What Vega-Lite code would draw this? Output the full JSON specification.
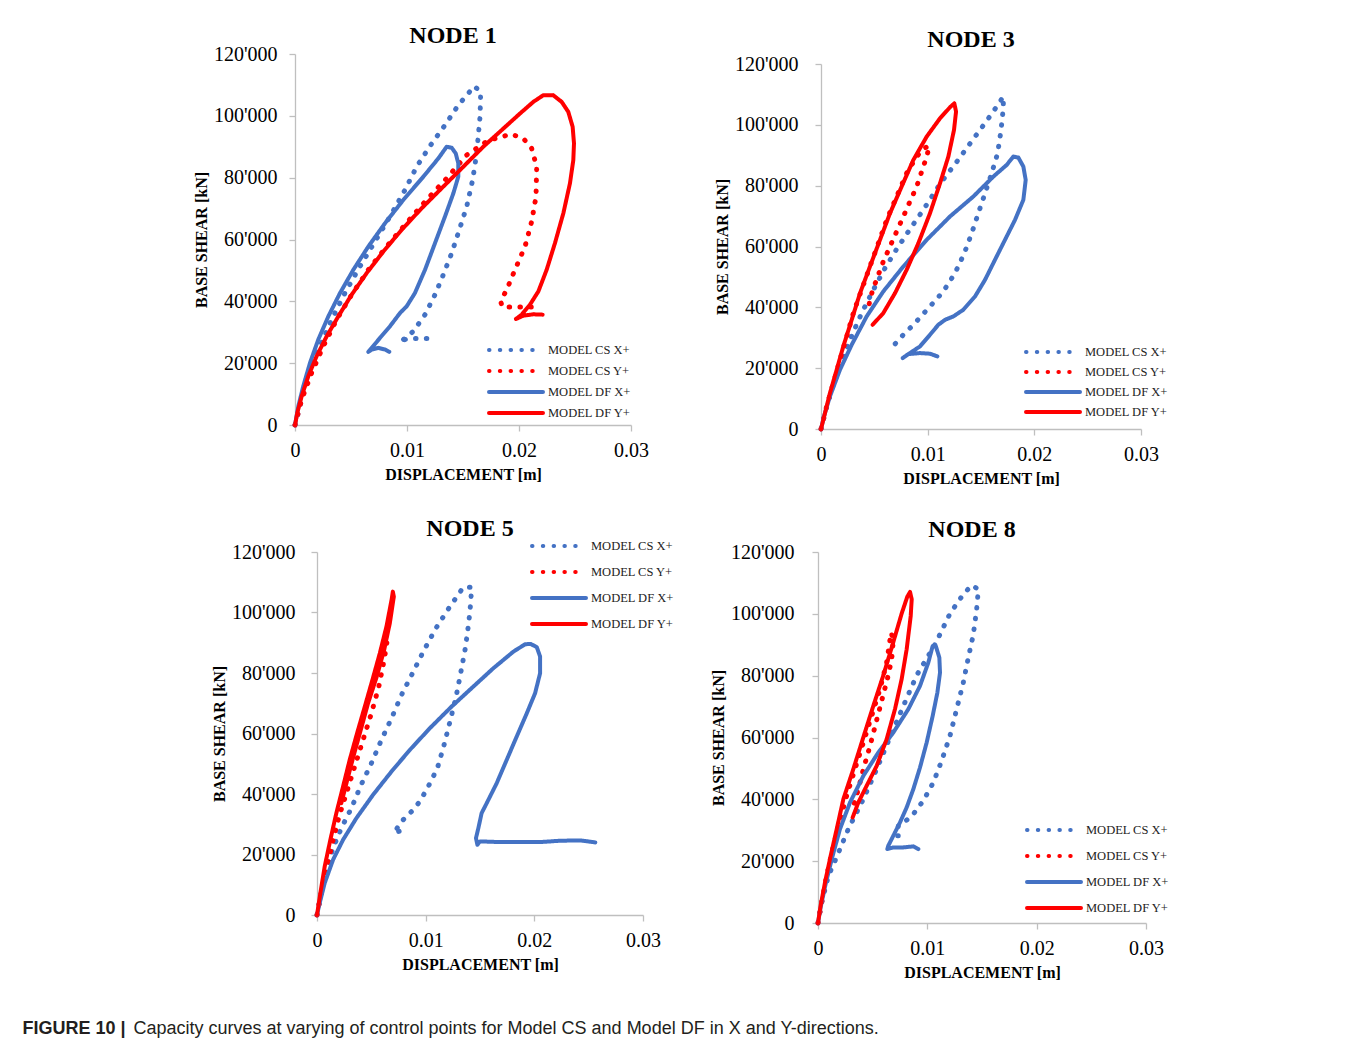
{
"$schema": "https://vega.github.io/schema/vega-lite/v6.json",
"background": "white",
"padding": {"left": 22, "top": 24, "right": 5, "bottom": 5},
"bounds": "flush",
"spacing": 498,
"title": {"text": "FIGURE 10 |", "orient": "bottom", "anchor": "start", "frame": "bounds", "font": "Liberation Sans", "fontSize": 18, "fontWeight": "bold", "color": "#231f20", "dx": -111, "offset": -4, "baseline": "alphabetic"},
"resolve": {"scale": {"color": "independent", "strokeDash": "independent"}, "legend": {"color": "independent", "strokeDash": "independent"}},
"datasets": {
"n1": [
{"s":"MODEL CS X+","i":0,"x":0,"y":0},{"s":"MODEL CS X+","i":1,"x":0.0006,"y":8280},{"s":"MODEL CS X+","i":2,"x":0.00134,"y":16882},{"s":"MODEL CS X+","i":3,"x":0.00223,"y":25484},{"s":"MODEL CS X+","i":4,"x":0.00327,"y":34087},{"s":"MODEL CS X+","i":5,"x":0.00446,"y":42689},{"s":"MODEL CS X+","i":6,"x":0.0058,"y":51292},{"s":"MODEL CS X+","i":7,"x":0.00714,"y":59357},{"s":"MODEL CS X+","i":8,"x":0.00848,"y":67422},{"s":"MODEL CS X+","i":9,"x":0.00982,"y":76024},{"s":"MODEL CS X+","i":10,"x":0.01086,"y":83551},{"s":"MODEL CS X+","i":11,"x":0.01205,"y":90218},{"s":"MODEL CS X+","i":12,"x":0.01333,"y":96670},{"s":"MODEL CS X+","i":13,"x":0.01458,"y":103444},{"s":"MODEL CS X+","i":14,"x":0.01601,"y":109573},{"s":"MODEL CS X+","i":15,"x":0.01658,"y":107745},{"s":"MODEL CS X+","i":16,"x":0.01652,"y":99680},{"s":"MODEL CS X+","i":17,"x":0.01622,"y":87852},{"s":"MODEL CS X+","i":18,"x":0.01586,"y":79250},{"s":"MODEL CS X+","i":19,"x":0.01533,"y":70648},{"s":"MODEL CS X+","i":20,"x":0.01467,"y":63121},{"s":"MODEL CS X+","i":21,"x":0.01399,"y":55594},{"s":"MODEL CS X+","i":22,"x":0.01324,"y":48604},{"s":"MODEL CS X+","i":23,"x":0.0125,"y":42152},{"s":"MODEL CS X+","i":24,"x":0.01161,"y":35700},{"s":"MODEL CS X+","i":25,"x":0.01057,"y":30323},{"s":"MODEL CS X+","i":26,"x":0.00967,"y":27635},{"s":"MODEL CS X+","i":27,"x":0.00932,"y":27097},{"s":"MODEL CS X+","i":28,"x":0.01012,"y":27958},{"s":"MODEL CS X+","i":29,"x":0.01116,"y":27958},{"s":"MODEL CS X+","i":30,"x":0.01205,"y":27958},
{"s":"MODEL CS Y+","i":0,"x":0,"y":0},{"s":"MODEL CS Y+","i":1,"x":0.0006,"y":8280},{"s":"MODEL CS Y+","i":2,"x":0.00149,"y":16882},{"s":"MODEL CS Y+","i":3,"x":0.00253,"y":25484},{"s":"MODEL CS Y+","i":4,"x":0.00372,"y":34087},{"s":"MODEL CS Y+","i":5,"x":0.00506,"y":42152},{"s":"MODEL CS Y+","i":6,"x":0.00655,"y":50217},{"s":"MODEL CS Y+","i":7,"x":0.00818,"y":57744},{"s":"MODEL CS Y+","i":8,"x":0.00982,"y":64733},{"s":"MODEL CS Y+","i":9,"x":0.01161,"y":72260},{"s":"MODEL CS Y+","i":10,"x":0.01354,"y":79787},{"s":"MODEL CS Y+","i":11,"x":0.01533,"y":87314},{"s":"MODEL CS Y+","i":12,"x":0.0172,"y":91938},{"s":"MODEL CS Y+","i":13,"x":0.01929,"y":94089},{"s":"MODEL CS Y+","i":14,"x":0.02039,"y":92691},{"s":"MODEL CS Y+","i":15,"x":0.02113,"y":89465},{"s":"MODEL CS Y+","i":16,"x":0.02158,"y":83551},{"s":"MODEL CS Y+","i":17,"x":0.02152,"y":73873},{"s":"MODEL CS Y+","i":18,"x":0.02113,"y":65808},{"s":"MODEL CS Y+","i":19,"x":0.02054,"y":57744},{"s":"MODEL CS Y+","i":20,"x":0.01964,"y":50217},{"s":"MODEL CS Y+","i":21,"x":0.0189,"y":43765},{"s":"MODEL CS Y+","i":22,"x":0.01836,"y":40001},{"s":"MODEL CS Y+","i":23,"x":0.01851,"y":38173},{"s":"MODEL CS Y+","i":24,"x":0.01949,"y":38173},{"s":"MODEL CS Y+","i":25,"x":0.02068,"y":38173},{"s":"MODEL CS Y+","i":26,"x":0.02181,"y":38173},
{"s":"MODEL DF X+","i":0,"x":0,"y":0},{"s":"MODEL DF X+","i":1,"x":0.0003,"y":6129},{"s":"MODEL DF X+","i":2,"x":0.00074,"y":12581},{"s":"MODEL DF X+","i":3,"x":0.00134,"y":20108},{"s":"MODEL DF X+","i":4,"x":0.00208,"y":27634},{"s":"MODEL DF X+","i":5,"x":0.00298,"y":35161},{"s":"MODEL DF X+","i":6,"x":0.00402,"y":42688},{"s":"MODEL DF X+","i":7,"x":0.00521,"y":50215},{"s":"MODEL DF X+","i":8,"x":0.00655,"y":57742},{"s":"MODEL DF X+","i":9,"x":0.00804,"y":65269},{"s":"MODEL DF X+","i":10,"x":0.00967,"y":72796},{"s":"MODEL DF X+","i":11,"x":0.01146,"y":80323},{"s":"MODEL DF X+","i":12,"x":0.0128,"y":86237},{"s":"MODEL DF X+","i":13,"x":0.01354,"y":90000},{"s":"MODEL DF X+","i":14,"x":0.01399,"y":89677},{"s":"MODEL DF X+","i":15,"x":0.01435,"y":87849},{"s":"MODEL DF X+","i":16,"x":0.01458,"y":84626},{"s":"MODEL DF X+","i":17,"x":0.01458,"y":80323},{"s":"MODEL DF X+","i":18,"x":0.01414,"y":74947},{"s":"MODEL DF X+","i":19,"x":0.01339,"y":67419},{"s":"MODEL DF X+","i":20,"x":0.0125,"y":58817},{"s":"MODEL DF X+","i":21,"x":0.01161,"y":50215},{"s":"MODEL DF X+","i":22,"x":0.01071,"y":42688},{"s":"MODEL DF X+","i":23,"x":0.00997,"y":38387},{"s":"MODEL DF X+","i":24,"x":0.00938,"y":36237},{"s":"MODEL DF X+","i":25,"x":0.00848,"y":31936},{"s":"MODEL DF X+","i":26,"x":0.00759,"y":28172},{"s":"MODEL DF X+","i":27,"x":0.00685,"y":24946},{"s":"MODEL DF X+","i":28,"x":0.00655,"y":23656},{"s":"MODEL DF X+","i":29,"x":0.00685,"y":24409},{"s":"MODEL DF X+","i":30,"x":0.00744,"y":24946},{"s":"MODEL DF X+","i":31,"x":0.00804,"y":24409},{"s":"MODEL DF X+","i":32,"x":0.00842,"y":23656},
{"s":"MODEL DF Y+","i":0,"x":0,"y":0},{"s":"MODEL DF Y+","i":1,"x":0.00021,"y":3979},{"s":"MODEL DF Y+","i":2,"x":0.0006,"y":9355},{"s":"MODEL DF Y+","i":3,"x":0.00119,"y":15807},{"s":"MODEL DF Y+","i":4,"x":0.00193,"y":22259},{"s":"MODEL DF Y+","i":5,"x":0.00283,"y":28710},{"s":"MODEL DF Y+","i":6,"x":0.00387,"y":35162},{"s":"MODEL DF Y+","i":7,"x":0.00506,"y":42152},{"s":"MODEL DF Y+","i":8,"x":0.0064,"y":49141},{"s":"MODEL DF Y+","i":9,"x":0.00789,"y":56131},{"s":"MODEL DF Y+","i":10,"x":0.00952,"y":63120},{"s":"MODEL DF Y+","i":11,"x":0.01131,"y":70109},{"s":"MODEL DF Y+","i":12,"x":0.01324,"y":77099},{"s":"MODEL DF Y+","i":13,"x":0.01518,"y":84088},{"s":"MODEL DF Y+","i":14,"x":0.01681,"y":90002},{"s":"MODEL DF Y+","i":15,"x":0.01845,"y":95379},{"s":"MODEL DF Y+","i":16,"x":0.02009,"y":100755},{"s":"MODEL DF Y+","i":17,"x":0.02128,"y":104519},{"s":"MODEL DF Y+","i":18,"x":0.02217,"y":106670},{"s":"MODEL DF Y+","i":19,"x":0.02306,"y":106670},{"s":"MODEL DF Y+","i":20,"x":0.02381,"y":104519},{"s":"MODEL DF Y+","i":21,"x":0.0244,"y":101293},{"s":"MODEL DF Y+","i":22,"x":0.02479,"y":96454},{"s":"MODEL DF Y+","i":23,"x":0.02491,"y":91077},{"s":"MODEL DF Y+","i":24,"x":0.02485,"y":85701},{"s":"MODEL DF Y+","i":25,"x":0.02455,"y":78173},{"s":"MODEL DF Y+","i":26,"x":0.02396,"y":68496},{"s":"MODEL DF Y+","i":27,"x":0.02321,"y":58818},{"s":"MODEL DF Y+","i":28,"x":0.02247,"y":50216},{"s":"MODEL DF Y+","i":29,"x":0.02173,"y":43227},{"s":"MODEL DF Y+","i":30,"x":0.02098,"y":38926},{"s":"MODEL DF Y+","i":31,"x":0.02024,"y":35700},{"s":"MODEL DF Y+","i":32,"x":0.01973,"y":34302},{"s":"MODEL DF Y+","i":33,"x":0.02039,"y":35377},{"s":"MODEL DF Y+","i":34,"x":0.02128,"y":35807},{"s":"MODEL DF Y+","i":35,"x":0.02211,"y":35700}
],
"n3": [
{"s":"MODEL CS X+","i":0,"x":0,"y":0},{"s":"MODEL CS X+","i":1,"x":0.000375,"y":5256},{"s":"MODEL CS X+","i":2,"x":0.001,"y":12920},{"s":"MODEL CS X+","i":3,"x":0.00178,"y":20584},{"s":"MODEL CS X+","i":4,"x":0.00272,"y":29343},{"s":"MODEL CS X+","i":5,"x":0.00381,"y":38103},{"s":"MODEL CS X+","i":6,"x":0.00491,"y":45767},{"s":"MODEL CS X+","i":7,"x":0.006,"y":52884},{"s":"MODEL CS X+","i":8,"x":0.00709,"y":59125},{"s":"MODEL CS X+","i":9,"x":0.00834,"y":65694},{"s":"MODEL CS X+","i":10,"x":0.00959,"y":72044},{"s":"MODEL CS X+","i":11,"x":0.01116,"y":80585},{"s":"MODEL CS X+","i":12,"x":0.01272,"y":87811},{"s":"MODEL CS X+","i":13,"x":0.01422,"y":95037},{"s":"MODEL CS X+","i":14,"x":0.01559,"y":101606},{"s":"MODEL CS X+","i":15,"x":0.01647,"y":105986},{"s":"MODEL CS X+","i":16,"x":0.01709,"y":109271},{"s":"MODEL CS X+","i":17,"x":0.01709,"y":105439},{"s":"MODEL CS X+","i":18,"x":0.01688,"y":98322},{"s":"MODEL CS X+","i":19,"x":0.01656,"y":90658},{"s":"MODEL CS X+","i":20,"x":0.016,"y":84089},{"s":"MODEL CS X+","i":21,"x":0.01538,"y":77519},{"s":"MODEL CS X+","i":22,"x":0.01475,"y":70950},{"s":"MODEL CS X+","i":23,"x":0.01413,"y":64381},{"s":"MODEL CS X+","i":24,"x":0.01344,"y":57811},{"s":"MODEL CS X+","i":25,"x":0.01256,"y":51242},{"s":"MODEL CS X+","i":26,"x":0.01147,"y":45219},{"s":"MODEL CS X+","i":27,"x":0.01022,"y":40293},{"s":"MODEL CS X+","i":28,"x":0.00881,"y":34818},{"s":"MODEL CS X+","i":29,"x":0.00772,"y":30986},{"s":"MODEL CS X+","i":30,"x":0.00688,"y":27701},{"s":"MODEL CS X+","i":31,"x":0.00709,"y":28249},
{"s":"MODEL CS Y+","i":0,"x":0,"y":0},{"s":"MODEL CS Y+","i":1,"x":0.00053,"y":7445},{"s":"MODEL CS Y+","i":2,"x":0.00116,"y":15110},{"s":"MODEL CS Y+","i":3,"x":0.00178,"y":22774},{"s":"MODEL CS Y+","i":4,"x":0.00241,"y":30438},{"s":"MODEL CS Y+","i":5,"x":0.00303,"y":38103},{"s":"MODEL CS Y+","i":6,"x":0.00381,"y":45767},{"s":"MODEL CS Y+","i":7,"x":0.00459,"y":53431},{"s":"MODEL CS Y+","i":8,"x":0.00538,"y":61096},{"s":"MODEL CS Y+","i":9,"x":0.00616,"y":68760},{"s":"MODEL CS Y+","i":10,"x":0.00709,"y":76424},{"s":"MODEL CS Y+","i":11,"x":0.00803,"y":84089},{"s":"MODEL CS Y+","i":12,"x":0.00897,"y":89563},{"s":"MODEL CS Y+","i":13,"x":0.00966,"y":92300},{"s":"MODEL CS Y+","i":14,"x":0.01016,"y":93067},{"s":"MODEL CS Y+","i":15,"x":0.00991,"y":89563},{"s":"MODEL CS Y+","i":16,"x":0.00944,"y":84636},{"s":"MODEL CS Y+","i":17,"x":0.00897,"y":79709},{"s":"MODEL CS Y+","i":18,"x":0.00834,"y":74782},{"s":"MODEL CS Y+","i":19,"x":0.00772,"y":69855},{"s":"MODEL CS Y+","i":20,"x":0.00709,"y":64928},{"s":"MODEL CS Y+","i":21,"x":0.00647,"y":60001},{"s":"MODEL CS Y+","i":22,"x":0.00584,"y":55074},{"s":"MODEL CS Y+","i":23,"x":0.00538,"y":50694},{"s":"MODEL CS Y+","i":24,"x":0.00491,"y":46314},{"s":"MODEL CS Y+","i":25,"x":0.00459,"y":42701},{"s":"MODEL CS Y+","i":26,"x":0.00444,"y":39197},
{"s":"MODEL DF X+","i":0,"x":0,"y":0},{"s":"MODEL DF X+","i":1,"x":0.00028,"y":4161},{"s":"MODEL DF X+","i":2,"x":0.00084,"y":10730},{"s":"MODEL DF X+","i":3,"x":0.00178,"y":19489},{"s":"MODEL DF X+","i":4,"x":0.00288,"y":27701},{"s":"MODEL DF X+","i":5,"x":0.00428,"y":37008},{"s":"MODEL DF X+","i":6,"x":0.00584,"y":45219},{"s":"MODEL DF X+","i":7,"x":0.00772,"y":53431},{"s":"MODEL DF X+","i":8,"x":0.00991,"y":62190},{"s":"MODEL DF X+","i":9,"x":0.01209,"y":69855},{"s":"MODEL DF X+","i":10,"x":0.01428,"y":76424},{"s":"MODEL DF X+","i":11,"x":0.01616,"y":82993},{"s":"MODEL DF X+","i":12,"x":0.01741,"y":86825},{"s":"MODEL DF X+","i":13,"x":0.01803,"y":89563},{"s":"MODEL DF X+","i":14,"x":0.0185,"y":89234},{"s":"MODEL DF X+","i":15,"x":0.01897,"y":86278},{"s":"MODEL DF X+","i":16,"x":0.01919,"y":81898},{"s":"MODEL DF X+","i":17,"x":0.01897,"y":75329},{"s":"MODEL DF X+","i":18,"x":0.01819,"y":68760},{"s":"MODEL DF X+","i":19,"x":0.01725,"y":62190},{"s":"MODEL DF X+","i":20,"x":0.01631,"y":55621},{"s":"MODEL DF X+","i":21,"x":0.01538,"y":49052},{"s":"MODEL DF X+","i":22,"x":0.01444,"y":43577},{"s":"MODEL DF X+","i":23,"x":0.01334,"y":39197},{"s":"MODEL DF X+","i":24,"x":0.01241,"y":37008},{"s":"MODEL DF X+","i":25,"x":0.01163,"y":35913},{"s":"MODEL DF X+","i":26,"x":0.011,"y":34271},{"s":"MODEL DF X+","i":27,"x":0.01022,"y":30986},{"s":"MODEL DF X+","i":28,"x":0.00928,"y":27154},{"s":"MODEL DF X+","i":29,"x":0.00834,"y":24964},{"s":"MODEL DF X+","i":30,"x":0.00766,"y":23321},{"s":"MODEL DF X+","i":31,"x":0.00819,"y":24635},{"s":"MODEL DF X+","i":32,"x":0.00928,"y":24964},{"s":"MODEL DF X+","i":33,"x":0.01022,"y":24745},{"s":"MODEL DF X+","i":34,"x":0.01091,"y":23869},
{"s":"MODEL DF Y+","i":0,"x":0,"y":0},{"s":"MODEL DF Y+","i":1,"x":0.000375,"y":5256},{"s":"MODEL DF Y+","i":2,"x":0.00084,"y":11825},{"s":"MODEL DF Y+","i":3,"x":0.00147,"y":19489},{"s":"MODEL DF Y+","i":4,"x":0.00209,"y":27154},{"s":"MODEL DF Y+","i":5,"x":0.00288,"y":35913},{"s":"MODEL DF Y+","i":6,"x":0.00366,"y":44672},{"s":"MODEL DF Y+","i":7,"x":0.00459,"y":53431},{"s":"MODEL DF Y+","i":8,"x":0.00553,"y":62190},{"s":"MODEL DF Y+","i":9,"x":0.00647,"y":70950},{"s":"MODEL DF Y+","i":10,"x":0.00756,"y":79709},{"s":"MODEL DF Y+","i":11,"x":0.00866,"y":88468},{"s":"MODEL DF Y+","i":12,"x":0.00991,"y":96132},{"s":"MODEL DF Y+","i":13,"x":0.01116,"y":102154},{"s":"MODEL DF Y+","i":14,"x":0.01209,"y":105767},{"s":"MODEL DF Y+","i":15,"x":0.0125,"y":107081},{"s":"MODEL DF Y+","i":16,"x":0.01266,"y":104344},{"s":"MODEL DF Y+","i":17,"x":0.01247,"y":98322},{"s":"MODEL DF Y+","i":18,"x":0.01194,"y":89563},{"s":"MODEL DF Y+","i":19,"x":0.01116,"y":80804},{"s":"MODEL DF Y+","i":20,"x":0.01022,"y":70950},{"s":"MODEL DF Y+","i":21,"x":0.00913,"y":61096},{"s":"MODEL DF Y+","i":22,"x":0.00803,"y":52337},{"s":"MODEL DF Y+","i":23,"x":0.00694,"y":44672},{"s":"MODEL DF Y+","i":24,"x":0.00584,"y":38103},{"s":"MODEL DF Y+","i":25,"x":0.00484,"y":34271}
],
"n5": [
{"s":"MODEL CS X+","i":0,"x":0,"y":0},{"s":"MODEL CS X+","i":1,"x":0.00031,"y":6165},{"s":"MODEL CS X+","i":2,"x":0.0008,"y":13871},{"s":"MODEL CS X+","i":3,"x":0.00148,"y":22128},{"s":"MODEL CS X+","i":4,"x":0.00224,"y":28733},{"s":"MODEL CS X+","i":5,"x":0.00317,"y":35339},{"s":"MODEL CS X+","i":6,"x":0.00403,"y":42825},{"s":"MODEL CS X+","i":7,"x":0.00501,"y":50201},{"s":"MODEL CS X+","i":8,"x":0.00593,"y":57907},{"s":"MODEL CS X+","i":9,"x":0.00686,"y":65063},{"s":"MODEL CS X+","i":10,"x":0.00778,"y":72769},{"s":"MODEL CS X+","i":11,"x":0.00879,"y":79925},{"s":"MODEL CS X+","i":12,"x":0.00978,"y":87081},{"s":"MODEL CS X+","i":13,"x":0.01094,"y":94788},{"s":"MODEL CS X+","i":14,"x":0.01217,"y":101613},{"s":"MODEL CS X+","i":15,"x":0.01346,"y":108329},{"s":"MODEL CS X+","i":16,"x":0.01423,"y":108329},{"s":"MODEL CS X+","i":17,"x":0.01414,"y":103044},{"s":"MODEL CS X+","i":18,"x":0.01396,"y":96439},{"s":"MODEL CS X+","i":19,"x":0.01365,"y":88182},{"s":"MODEL CS X+","i":20,"x":0.01322,"y":79925},{"s":"MODEL CS X+","i":21,"x":0.01279,"y":71999},{"s":"MODEL CS X+","i":22,"x":0.01223,"y":63852},{"s":"MODEL CS X+","i":23,"x":0.01168,"y":56036},{"s":"MODEL CS X+","i":24,"x":0.01107,"y":48440},{"s":"MODEL CS X+","i":25,"x":0.01024,"y":42495},{"s":"MODEL CS X+","i":26,"x":0.00947,"y":37541},{"s":"MODEL CS X+","i":27,"x":0.0087,"y":34238},{"s":"MODEL CS X+","i":28,"x":0.00778,"y":30935},{"s":"MODEL CS X+","i":29,"x":0.00732,"y":28403},{"s":"MODEL CS X+","i":30,"x":0.00701,"y":28183},{"s":"MODEL CS X+","i":31,"x":0.00738,"y":27523},{"s":"MODEL CS X+","i":32,"x":0.00778,"y":27853},
{"s":"MODEL CS Y+","i":0,"x":0,"y":0},{"s":"MODEL CS Y+","i":1,"x":0.0004,"y":7266},{"s":"MODEL CS Y+","i":2,"x":0.00086,"y":14972},{"s":"MODEL CS Y+","i":3,"x":0.00141,"y":23779},{"s":"MODEL CS Y+","i":4,"x":0.00203,"y":32587},{"s":"MODEL CS Y+","i":5,"x":0.00271,"y":40293},{"s":"MODEL CS Y+","i":6,"x":0.00347,"y":49100},{"s":"MODEL CS Y+","i":7,"x":0.00424,"y":57907},{"s":"MODEL CS Y+","i":8,"x":0.00501,"y":66715},{"s":"MODEL CS Y+","i":9,"x":0.00569,"y":75522},{"s":"MODEL CS Y+","i":10,"x":0.00618,"y":84329},{"s":"MODEL CS Y+","i":11,"x":0.00655,"y":92916},
{"s":"MODEL DF X+","i":0,"x":0,"y":0},{"s":"MODEL DF X+","i":1,"x":0.00025,"y":3963},{"s":"MODEL DF X+","i":2,"x":0.00071,"y":10569},{"s":"MODEL DF X+","i":3,"x":0.00148,"y":18275},{"s":"MODEL DF X+","i":4,"x":0.0024,"y":24880},{"s":"MODEL DF X+","i":5,"x":0.00363,"y":32036},{"s":"MODEL DF X+","i":6,"x":0.00516,"y":39742},{"s":"MODEL DF X+","i":7,"x":0.00686,"y":47449},{"s":"MODEL DF X+","i":8,"x":0.00855,"y":54605},{"s":"MODEL DF X+","i":9,"x":0.01039,"y":61761},{"s":"MODEL DF X+","i":10,"x":0.01239,"y":68916},{"s":"MODEL DF X+","i":11,"x":0.01439,"y":75522},{"s":"MODEL DF X+","i":12,"x":0.01623,"y":81577},{"s":"MODEL DF X+","i":13,"x":0.01808,"y":87081},{"s":"MODEL DF X+","i":14,"x":0.01915,"y":89503},{"s":"MODEL DF X+","i":15,"x":0.01967,"y":89613},{"s":"MODEL DF X+","i":16,"x":0.02023,"y":88512},{"s":"MODEL DF X+","i":17,"x":0.02053,"y":85430},{"s":"MODEL DF X+","i":18,"x":0.02053,"y":79925},{"s":"MODEL DF X+","i":19,"x":0.02007,"y":73320},{"s":"MODEL DF X+","i":20,"x":0.01931,"y":66715},{"s":"MODEL DF X+","i":21,"x":0.01838,"y":59008},{"s":"MODEL DF X+","i":22,"x":0.01746,"y":51302},{"s":"MODEL DF X+","i":23,"x":0.01654,"y":43596},{"s":"MODEL DF X+","i":24,"x":0.01562,"y":36990},{"s":"MODEL DF X+","i":25,"x":0.01515,"y":33688},{"s":"MODEL DF X+","i":26,"x":0.01485,"y":28733},{"s":"MODEL DF X+","i":27,"x":0.01463,"y":25431},{"s":"MODEL DF X+","i":28,"x":0.01476,"y":23229},{"s":"MODEL DF X+","i":29,"x":0.015,"y":24330},{"s":"MODEL DF X+","i":30,"x":0.01685,"y":24110},{"s":"MODEL DF X+","i":31,"x":0.01869,"y":24110},{"s":"MODEL DF X+","i":32,"x":0.02053,"y":24110},{"s":"MODEL DF X+","i":33,"x":0.02238,"y":24550},{"s":"MODEL DF X+","i":34,"x":0.02422,"y":24660},{"s":"MODEL DF X+","i":35,"x":0.02561,"y":24000},
{"s":"MODEL DF Y+","i":0,"x":0,"y":0},{"s":"MODEL DF Y+","i":1,"x":0.00031,"y":7266},{"s":"MODEL DF Y+","i":2,"x":0.00071,"y":16073},{"s":"MODEL DF Y+","i":3,"x":0.00123,"y":24880},{"s":"MODEL DF Y+","i":4,"x":0.00178,"y":33688},{"s":"MODEL DF Y+","i":5,"x":0.0024,"y":42495},{"s":"MODEL DF Y+","i":6,"x":0.00301,"y":51302},{"s":"MODEL DF Y+","i":7,"x":0.00369,"y":60109},{"s":"MODEL DF Y+","i":8,"x":0.0044,"y":68916},{"s":"MODEL DF Y+","i":9,"x":0.0051,"y":77724},{"s":"MODEL DF Y+","i":10,"x":0.00578,"y":86531},{"s":"MODEL DF Y+","i":11,"x":0.00639,"y":95338},{"s":"MODEL DF Y+","i":12,"x":0.00686,"y":104145},{"s":"MODEL DF Y+","i":13,"x":0.00698,"y":106897},{"s":"MODEL DF Y+","i":14,"x":0.00707,"y":105246},{"s":"MODEL DF Y+","i":15,"x":0.0067,"y":96439},{"s":"MODEL DF Y+","i":16,"x":0.00618,"y":87632},{"s":"MODEL DF Y+","i":17,"x":0.0055,"y":78824},{"s":"MODEL DF Y+","i":18,"x":0.0047,"y":70017},{"s":"MODEL DF Y+","i":19,"x":0.00403,"y":61210},{"s":"MODEL DF Y+","i":20,"x":0.00335,"y":52403},{"s":"MODEL DF Y+","i":21,"x":0.00271,"y":43596},{"s":"MODEL DF Y+","i":22,"x":0.00224,"y":36990}
],
"n8": [
{"s":"MODEL CS X+","i":0,"x":0,"y":0},{"s":"MODEL CS X+","i":1,"x":0.00034,"y":6679},{"s":"MODEL CS X+","i":2,"x":0.00095,"y":15296},{"s":"MODEL CS X+","i":3,"x":0.00155,"y":20036},{"s":"MODEL CS X+","i":4,"x":0.00277,"y":30377},{"s":"MODEL CS X+","i":5,"x":0.00415,"y":40072},{"s":"MODEL CS X+","i":6,"x":0.00537,"y":49767},{"s":"MODEL CS X+","i":7,"x":0.00659,"y":60108},{"s":"MODEL CS X+","i":8,"x":0.00781,"y":70233},{"s":"MODEL CS X+","i":9,"x":0.00903,"y":80144},{"s":"MODEL CS X+","i":10,"x":0.0107,"y":90054},{"s":"MODEL CS X+","i":11,"x":0.01207,"y":100072},{"s":"MODEL CS X+","i":12,"x":0.01329,"y":106319},{"s":"MODEL CS X+","i":13,"x":0.01406,"y":109228},{"s":"MODEL CS X+","i":14,"x":0.01467,"y":107935},{"s":"MODEL CS X+","i":15,"x":0.01451,"y":101472},{"s":"MODEL CS X+","i":16,"x":0.01421,"y":93393},{"s":"MODEL CS X+","i":17,"x":0.01375,"y":85853},{"s":"MODEL CS X+","i":18,"x":0.01329,"y":77774},{"s":"MODEL CS X+","i":19,"x":0.01268,"y":69156},{"s":"MODEL CS X+","i":20,"x":0.01207,"y":60539},{"s":"MODEL CS X+","i":21,"x":0.01131,"y":52460},{"s":"MODEL CS X+","i":22,"x":0.01055,"y":45458},{"s":"MODEL CS X+","i":23,"x":0.00963,"y":39533},{"s":"MODEL CS X+","i":24,"x":0.00872,"y":35224},{"s":"MODEL CS X+","i":25,"x":0.00781,"y":32316},{"s":"MODEL CS X+","i":26,"x":0.00735,"y":31454},{"s":"MODEL CS X+","i":27,"x":0.0072,"y":28223},{"s":"MODEL CS X+","i":28,"x":0.00796,"y":28223},
{"s":"MODEL CS Y+","i":0,"x":0,"y":0},{"s":"MODEL CS Y+","i":1,"x":0.00034,"y":6679},{"s":"MODEL CS Y+","i":2,"x":0.00079,"y":15296},{"s":"MODEL CS Y+","i":3,"x":0.00134,"y":23914},{"s":"MODEL CS Y+","i":4,"x":0.00195,"y":32531},{"s":"MODEL CS Y+","i":5,"x":0.00262,"y":41149},{"s":"MODEL CS Y+","i":6,"x":0.00338,"y":49767},{"s":"MODEL CS Y+","i":7,"x":0.00415,"y":58384},{"s":"MODEL CS Y+","i":8,"x":0.00491,"y":67002},{"s":"MODEL CS Y+","i":9,"x":0.00567,"y":75619},{"s":"MODEL CS Y+","i":10,"x":0.00628,"y":84237},{"s":"MODEL CS Y+","i":11,"x":0.00668,"y":93932},{"s":"MODEL CS Y+","i":12,"x":0.00689,"y":91778},{"s":"MODEL CS Y+","i":13,"x":0.00674,"y":85314},{"s":"MODEL CS Y+","i":14,"x":0.00634,"y":78851},{"s":"MODEL CS Y+","i":15,"x":0.00582,"y":71849},{"s":"MODEL CS Y+","i":16,"x":0.00531,"y":64847},{"s":"MODEL CS Y+","i":17,"x":0.00476,"y":57307},{"s":"MODEL CS Y+","i":18,"x":0.00415,"y":49767},{"s":"MODEL CS Y+","i":19,"x":0.00369,"y":43303},{"s":"MODEL CS Y+","i":20,"x":0.00329,"y":38456},
{"s":"MODEL DF X+","i":0,"x":0,"y":0},{"s":"MODEL DF X+","i":1,"x":0.00024,"y":5063},{"s":"MODEL DF X+","i":2,"x":0.00073,"y":13142},{"s":"MODEL DF X+","i":3,"x":0.00134,"y":21759},{"s":"MODEL DF X+","i":4,"x":0.00201,"y":30377},{"s":"MODEL DF X+","i":5,"x":0.00293,"y":38995},{"s":"MODEL DF X+","i":6,"x":0.00415,"y":47612},{"s":"MODEL DF X+","i":7,"x":0.00552,"y":55153},{"s":"MODEL DF X+","i":8,"x":0.00689,"y":61616},{"s":"MODEL DF X+","i":9,"x":0.00826,"y":69156},{"s":"MODEL DF X+","i":10,"x":0.00933,"y":76697},{"s":"MODEL DF X+","i":11,"x":0.01009,"y":84237},{"s":"MODEL DF X+","i":12,"x":0.01049,"y":89623},{"s":"MODEL DF X+","i":13,"x":0.01079,"y":89408},{"s":"MODEL DF X+","i":14,"x":0.0111,"y":85853},{"s":"MODEL DF X+","i":15,"x":0.01116,"y":81006},{"s":"MODEL DF X+","i":16,"x":0.01092,"y":74542},{"s":"MODEL DF X+","i":17,"x":0.01049,"y":67002},{"s":"MODEL DF X+","i":18,"x":0.00994,"y":58384},{"s":"MODEL DF X+","i":19,"x":0.00933,"y":50305},{"s":"MODEL DF X+","i":20,"x":0.00872,"y":43303},{"s":"MODEL DF X+","i":21,"x":0.00811,"y":37379},{"s":"MODEL DF X+","i":22,"x":0.0075,"y":32531},{"s":"MODEL DF X+","i":23,"x":0.00689,"y":28223},{"s":"MODEL DF X+","i":24,"x":0.00643,"y":24991},{"s":"MODEL DF X+","i":25,"x":0.00634,"y":23914},{"s":"MODEL DF X+","i":26,"x":0.00689,"y":24453},{"s":"MODEL DF X+","i":27,"x":0.00781,"y":24453},{"s":"MODEL DF X+","i":28,"x":0.00872,"y":24776},{"s":"MODEL DF X+","i":29,"x":0.00918,"y":23914},
{"s":"MODEL DF Y+","i":0,"x":0,"y":0},{"s":"MODEL DF Y+","i":1,"x":0.00024,"y":5601},{"s":"MODEL DF Y+","i":2,"x":0.00064,"y":13142},{"s":"MODEL DF Y+","i":3,"x":0.00116,"y":21759},{"s":"MODEL DF Y+","i":4,"x":0.00171,"y":30377},{"s":"MODEL DF Y+","i":5,"x":0.00232,"y":40072},{"s":"MODEL DF Y+","i":6,"x":0.00323,"y":49767},{"s":"MODEL DF Y+","i":7,"x":0.00415,"y":60108},{"s":"MODEL DF Y+","i":8,"x":0.00506,"y":70233},{"s":"MODEL DF Y+","i":9,"x":0.00598,"y":80144},{"s":"MODEL DF Y+","i":10,"x":0.00683,"y":90162},{"s":"MODEL DF Y+","i":11,"x":0.00765,"y":100072},{"s":"MODEL DF Y+","i":12,"x":0.00817,"y":105566},{"s":"MODEL DF Y+","i":13,"x":0.00842,"y":107074},{"s":"MODEL DF Y+","i":14,"x":0.00857,"y":104704},{"s":"MODEL DF Y+","i":15,"x":0.00848,"y":99318},{"s":"MODEL DF Y+","i":16,"x":0.00811,"y":88546},{"s":"MODEL DF Y+","i":17,"x":0.00765,"y":78851},{"s":"MODEL DF Y+","i":18,"x":0.00704,"y":69156},{"s":"MODEL DF Y+","i":19,"x":0.00628,"y":59461},{"s":"MODEL DF Y+","i":20,"x":0.00537,"y":50844},{"s":"MODEL DF Y+","i":21,"x":0.00445,"y":44381},{"s":"MODEL DF Y+","i":22,"x":0.00369,"y":38995},{"s":"MODEL DF Y+","i":23,"x":0.00317,"y":34147}
]
},
"vconcat": [
{"hconcat": [
  {"title": {"text": "NODE 1", "offset": -4}, "width": 336, "height": 371, "data": {"name": "n1"},
   "encoding": {
    "x": {"field": "x", "type": "quantitative", "scale": {"domain": [0, 0.03], "nice": false}, "axis": {"values": [0, 0.01, 0.02, 0.03], "format": "~g", "title": "DISPLACEMENT [m]"}},
    "y": {"field": "y", "type": "quantitative", "scale": {"domain": [0, 120000], "nice": false}, "axis": {"values": [0, 20000, 40000, 60000, 80000, 100000, 120000], "labelExpr": "replace(format(datum.value, ','), ',', \"'\")", "title": "BASE SHEAR [kN]", "labelPadding": 12}},
    "color": {"field": "s", "type": "nominal", "scale": {"domain": ["MODEL CS X+", "MODEL CS Y+", "MODEL DF X+", "MODEL DF Y+"], "range": ["#4472C4", "#FF0000", "#4472C4", "#FF0000"]}, "legend": {"title": null, "legendX": 192, "legendY": 289, "rowPadding": 7, "encode": {"symbols": {"update": {"strokeCap": {"value": "round"}}}}}},
    "strokeDash": {"field": "s", "type": "nominal", "scale": {"domain": ["MODEL CS X+", "MODEL CS Y+", "MODEL DF X+", "MODEL DF Y+"], "range": [[0.5, 10.3], [0.5, 10.3], [1, 0], [1, 0]]}, "legend": {"title": null, "legendX": 192, "legendY": 289, "rowPadding": 7}},
    "order": {"field": "i", "type": "quantitative"}
   },
   "layer": [
    {"transform": [{"filter": "indexof(datum.s, 'CS') >= 0"}], "mark": {"type": "line", "strokeWidth": 5, "strokeCap": "round", "strokeJoin": "round"}},
    {"transform": [{"filter": "indexof(datum.s, 'DF') >= 0"}], "mark": {"type": "line", "strokeWidth": 4, "strokeCap": "round", "strokeJoin": "round"}}
   ]},
  {"vconcat": [
    {"width": 1, "height": 10, "data": {"values": [{}]}, "mark": {"type": "text", "text": ""}},
    {"title": {"text": "NODE 3", "offset": 2.5}, "width": 320, "height": 365, "data": {"name": "n3"},
     "encoding": {
      "x": {"field": "x", "type": "quantitative", "scale": {"domain": [0, 0.03], "nice": false}, "axis": {"values": [0, 0.01, 0.02, 0.03], "format": "~g", "title": "DISPLACEMENT [m]"}},
      "y": {"field": "y", "type": "quantitative", "scale": {"domain": [0, 120000], "nice": false}, "axis": {"values": [0, 20000, 40000, 60000, 80000, 100000, 120000], "labelExpr": "replace(format(datum.value, ','), ',', \"'\")", "title": "BASE SHEAR [kN]", "labelPadding": 17}},
      "color": {"field": "s", "type": "nominal", "scale": {"domain": ["MODEL CS X+", "MODEL CS Y+", "MODEL DF X+", "MODEL DF Y+"], "range": ["#4472C4", "#FF0000", "#4472C4", "#FF0000"]}, "legend": {"title": null, "legendX": 203, "legendY": 281, "rowPadding": 6, "encode": {"symbols": {"update": {"strokeCap": {"value": "round"}}}}}},
      "strokeDash": {"field": "s", "type": "nominal", "scale": {"domain": ["MODEL CS X+", "MODEL CS Y+", "MODEL DF X+", "MODEL DF Y+"], "range": [[0.5, 10.3], [0.5, 10.3], [1, 0], [1, 0]]}, "legend": {"title": null, "legendX": 203, "legendY": 281, "rowPadding": 6}},
      "order": {"field": "i", "type": "quantitative"}
     },
     "layer": [
      {"transform": [{"filter": "indexof(datum.s, 'CS') >= 0"}], "mark": {"type": "line", "strokeWidth": 5, "strokeCap": "round", "strokeJoin": "round"}},
      {"transform": [{"filter": "indexof(datum.s, 'DF') >= 0"}], "mark": {"type": "line", "strokeWidth": 4, "strokeCap": "round", "strokeJoin": "round"}}
     ]}
   ], "spacing": 0, "bounds": "flush",
   "resolve": {"scale": {"color": "independent", "strokeDash": "independent"}, "legend": {"color": "independent", "strokeDash": "independent"}}}
 ], "spacing": 190, "bounds": "flush",
 "resolve": {"scale": {"color": "independent", "strokeDash": "independent"}, "legend": {"color": "independent", "strokeDash": "independent"}}},
{"title": {"text": "Capacity curves at varying of control points for Model CS and Model DF in X and Y-directions.", "orient": "bottom", "anchor": "start", "frame": "bounds", "font": "Liberation Sans", "fontSize": 18, "fontWeight": "normal", "color": "#231f20", "dx": -78, "offset": 54, "baseline": "alphabetic"},
 "hconcat": [
  {"width": 22, "height": 1, "data": {"values": [{}]}, "mark": {"type": "text", "text": ""}},
  {"hconcat": [
    {"title": {"text": "NODE 5", "offset": -1.5}, "width": 326, "height": 363, "data": {"name": "n5"},
     "encoding": {
      "x": {"field": "x", "type": "quantitative", "scale": {"domain": [0, 0.03], "nice": false}, "axis": {"values": [0, 0.01, 0.02, 0.03], "format": "~g", "title": "DISPLACEMENT [m]"}},
      "y": {"field": "y", "type": "quantitative", "scale": {"domain": [0, 120000], "nice": false}, "axis": {"values": [0, 20000, 40000, 60000, 80000, 100000, 120000], "labelExpr": "replace(format(datum.value, ','), ',', \"'\")", "title": "BASE SHEAR [kN]", "labelPadding": 16}},
      "color": {"field": "s", "type": "nominal", "scale": {"domain": ["MODEL CS X+", "MODEL CS Y+", "MODEL DF X+", "MODEL DF Y+"], "range": ["#4472C4", "#FF0000", "#4472C4", "#FF0000"]}, "legend": {"title": null, "legendX": 213, "legendY": -13, "rowPadding": 12, "encode": {"symbols": {"update": {"strokeCap": {"value": "round"}}}}}},
      "strokeDash": {"field": "s", "type": "nominal", "scale": {"domain": ["MODEL CS X+", "MODEL CS Y+", "MODEL DF X+", "MODEL DF Y+"], "range": [[0.5, 10.3], [0.5, 10.3], [1, 0], [1, 0]]}, "legend": {"title": null, "legendX": 213, "legendY": -13, "rowPadding": 12}},
      "order": {"field": "i", "type": "quantitative"}
     },
     "layer": [
      {"transform": [{"filter": "indexof(datum.s, 'CS') >= 0"}], "mark": {"type": "line", "strokeWidth": 5, "strokeCap": "round", "strokeJoin": "round"}},
      {"transform": [{"filter": "indexof(datum.s, 'DF') >= 0"}], "mark": {"type": "line", "strokeWidth": 4, "strokeCap": "round", "strokeJoin": "round"}}
     ]},
    {"title": {"text": "NODE 8", "offset": 0.5}, "width": 328, "height": 371, "data": {"name": "n8"},
     "encoding": {
      "x": {"field": "x", "type": "quantitative", "scale": {"domain": [0, 0.03], "nice": false}, "axis": {"values": [0, 0.01, 0.02, 0.03], "format": "~g", "title": "DISPLACEMENT [m]"}},
      "y": {"field": "y", "type": "quantitative", "scale": {"domain": [0, 120000], "nice": false}, "axis": {"values": [0, 20000, 40000, 60000, 80000, 100000, 120000], "labelExpr": "replace(format(datum.value, ','), ',', \"'\")", "title": "BASE SHEAR [kN]", "labelPadding": 18}},
      "color": {"field": "s", "type": "nominal", "scale": {"domain": ["MODEL CS X+", "MODEL CS Y+", "MODEL DF X+", "MODEL DF Y+"], "range": ["#4472C4", "#FF0000", "#4472C4", "#FF0000"]}, "legend": {"title": null, "legendX": 207, "legendY": 271, "rowPadding": 12, "encode": {"symbols": {"update": {"strokeCap": {"value": "round"}}}}}},
      "strokeDash": {"field": "s", "type": "nominal", "scale": {"domain": ["MODEL CS X+", "MODEL CS Y+", "MODEL DF X+", "MODEL DF Y+"], "range": [[0.5, 10.3], [0.5, 10.3], [1, 0], [1, 0]]}, "legend": {"title": null, "legendX": 207, "legendY": 271, "rowPadding": 12}},
      "order": {"field": "i", "type": "quantitative"}
     },
     "layer": [
      {"transform": [{"filter": "indexof(datum.s, 'CS') >= 0"}], "mark": {"type": "line", "strokeWidth": 5, "strokeCap": "round", "strokeJoin": "round"}},
      {"transform": [{"filter": "indexof(datum.s, 'DF') >= 0"}], "mark": {"type": "line", "strokeWidth": 4, "strokeCap": "round", "strokeJoin": "round"}}
     ]}
   ], "spacing": 175, "bounds": "flush",
   "resolve": {"scale": {"color": "independent", "strokeDash": "independent"}, "legend": {"color": "independent", "strokeDash": "independent"}}}
 ], "spacing": 0, "bounds": "flush",
 "resolve": {"scale": {"color": "independent", "strokeDash": "independent"}, "legend": {"color": "independent", "strokeDash": "independent"}}}
],
"config": {
  "view": {"stroke": null},
  "font": "Liberation Serif",
  "axis": {"grid": false, "domainColor": "#bfbfbf", "domainWidth": 1.3, "tickColor": "#bfbfbf", "tickSize": 6, "tickWidth": 1.3, "labelFont": "Liberation Serif", "labelFontSize": 20, "labelColor": "#000000", "titleFont": "Liberation Serif", "titleFontSize": 16, "titleFontWeight": "bold", "titleColor": "#000000"},
  "axisX": {"labelPadding": 9, "titlePadding": 6, "labelFlush": false},
  "axisY": {"titlePadding": 4},
  "legend": {"orient": "none", "symbolType": "stroke", "symbolSize": 2916, "symbolStrokeWidth": 4, "clipHeight": 14, "labelOffset": 3, "labelFont": "Liberation Serif", "labelFontSize": 12.5, "labelColor": "#222222", "padding": 0},
  "title": {"font": "Liberation Serif", "fontSize": 24, "fontWeight": "bold", "color": "#000000", "frame": "group", "dx": -10, "baseline": "alphabetic"}
}
}
